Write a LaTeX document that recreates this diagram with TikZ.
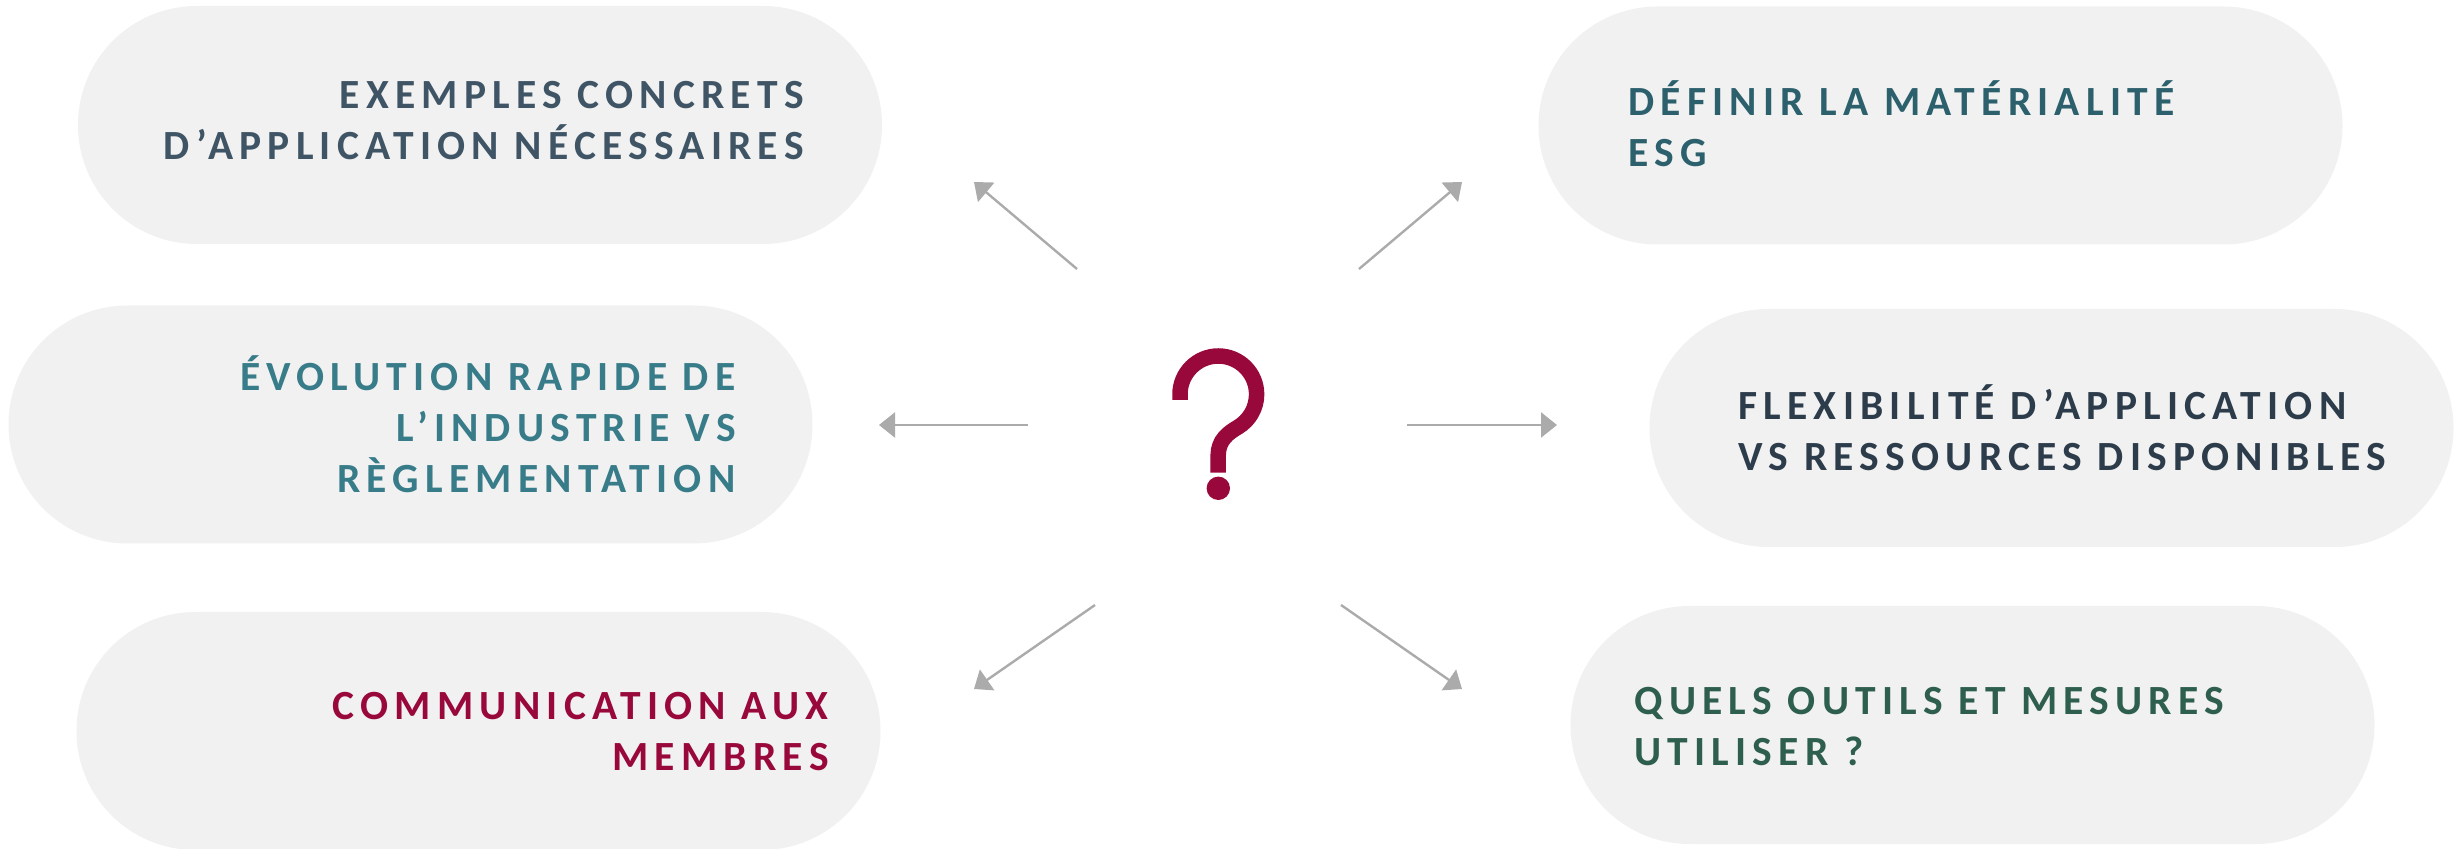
\documentclass[tikz,border=0pt]{standalone}
\usepackage{fontspec}
\setmainfont{Carlito}
\newfontfamily\boxfont[LetterSpace=15]{Carlito}
\usetikzlibrary{arrows.meta}
\definecolor{boxgray}{HTML}{F1F1F1}
\definecolor{arrowgray}{HTML}{ABABAB}
\definecolor{qmred}{HTML}{99083A}
\definecolor{cslate}{HTML}{3F5566}
\definecolor{cteal}{HTML}{387C8A}
\definecolor{cdteal}{HTML}{2B606C}
\definecolor{cnavy}{HTML}{2D3C4B}
\definecolor{cgreen}{HTML}{2E5E4E}
\tikzset{
  pill/.style={fill=boxgray, draw=none, rounded corners=59.4pt,
    minimum width=402pt, minimum height=119pt, inner sep=0pt},
  lbl/.style={inner sep=0pt, font=\boxfont\bfseries\fontsize{20.75}{25.5}\selectfont},
  lblr/.style={lbl, align=right, anchor=base east},
  lbll/.style={lbl, align=left, anchor=base west},
  conn/.style={draw=arrowgray, line width=1.2pt,
    -{Triangle[length=8pt,width=12.5pt]}},
  qm/.style={draw=qmred, line width=7.75pt},
}
\begin{document}
\begin{tikzpicture}[x=0.5pt,y=-0.5pt]
\useasboundingbox (0,0) rectangle (2458,849);
% boxes
\node[pill] (b1) at (480,125) {};
\node[pill] (b2) at (410.5,424.5) {};
\node[pill] (b3) at (478.5,731) {};
\node[pill] (b4) at (1940.5,125.5) {};
\node[pill] (b5) at (2051.5,428) {};
\node[pill] (b6) at (1972.5,725) {};
% labels (anchored at the baseline of the last line)
\node[lblr, text=cslate] (t1) at (804,160) {EXEMPLES CONCRETS\\D’APPLICATION NÉCESSAIRES};
\node[lblr, text=cteal] (t2) at (736,493) {ÉVOLUTION RAPIDE DE\\L’INDUSTRIE VS\\RÈGLEMENTATION};
\node[lblr, text=qmred] (t3) at (829,770) {COMMUNICATION AUX\\MEMBRES};
\node[lbll, text=cdteal] (t4) at (1628,166.5) {DÉFINIR LA MATÉRIALITÉ\\ESG};
\node[lbll, text=cnavy] (t5) at (1738,470.5) {FLEXIBILITÉ D’APPLICATION\\VS RESSOURCES DISPONIBLES};
\node[lbll, text=cgreen] (t6) at (1634,765) {QUELS OUTILS ET MESURES\\UTILISER ?};
% question mark
\draw[qm] (1180,400) -- (1180,394.3) arc[start angle=180, end angle=420, radius=38.3]
  .. controls (1228.8,432.5) and (1218.2,440) .. (1218.2,455) -- (1218.2,472.7);
\fill[qmred] (1218.3,488.3) circle[radius=11.7];
% arrow end points
\coordinate (a1s) at (1077,269); \coordinate (a1e) at (974,182);
\coordinate (a2s) at (1359,269); \coordinate (a2e) at (1462,182);
\coordinate (a3s) at (1028,425); \coordinate (a3e) at (879,425);
\coordinate (a4s) at (1407,425); \coordinate (a4e) at (1557,425);
\coordinate (a5s) at (1095,605); \coordinate (a5e) at (974,689);
\coordinate (a6s) at (1341,605); \coordinate (a6e) at (1462,689);
\draw[conn] (a1s) -- (a1e);
\draw[conn] (a2s) -- (a2e);
\draw[conn] (a3s) -- (a3e);
\draw[conn] (a4s) -- (a4e);
\draw[conn] (a5s) -- (a5e);
\draw[conn] (a6s) -- (a6e);
\end{tikzpicture}
\end{document}
